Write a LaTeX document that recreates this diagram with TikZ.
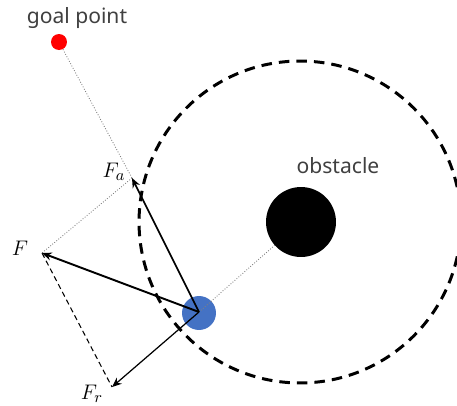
\documentclass[tikz,border=0pt]{standalone}
\usepackage{fontspec}
\newfontfamily\labelfont{Noto Sans}
\usetikzlibrary{arrows.meta}
\definecolor{robotblue}{HTML}{4472C4}
\definecolor{textgray}{HTML}{404040}
\tikzset{
  dot/.style={circle, inner sep=0pt, draw=none},
  force/.style={-{Stealth[length=5.5pt,width=4.5pt]}, black},
  helper/.style={densely dotted, gray, line width=0.5pt},
  sidetext/.style={text=textgray, font=\labelfont\fontsize{12}{14}\selectfont},
  mathlabel/.style={font=\fontsize{13}{15}\selectfont, inner sep=1pt},
}
\begin{document}
\begin{tikzpicture}[x=0.02cm, y=-0.02cm]
\useasboundingbox (0,0) rectangle (457,406);
\clip (0,0) rectangle (457,406);
% influence region
\draw[line width=1.7pt, dash pattern=on 6pt off 4pt] (300,222) circle[radius=3.22cm];
% nodes
\node[dot, fill=red, minimum size=0.32cm] (goal) at (59,42) {};
\node[dot, fill=black, minimum size=1.4cm] (obst) at (301,222) {};
\node[dot, fill=robotblue, minimum size=0.68cm] (robot) at (199,313) {};
\coordinate (c) at (199,312);
\coordinate (fa) at (132,178);
\coordinate (f) at (42,253);
\coordinate (fr) at (112,387);
% labels
\node[sidetext] (goallbl) at (77,18) {goal point};
\node[sidetext] (obstlbl) at (338,166) {obstacle};
\node[mathlabel] (falbl) at (114,172) {$F_a$};
\node[mathlabel] (flbl) at (20,248) {$F$};
\node[mathlabel] (frlbl) at (92,394) {$F_r$};
% helper lines
\draw[helper] (goal) -- (fa);
\draw[helper] (c) -- (obst);
\draw[helper] (fa) -- (f);
\draw[densely dashed, line width=0.6pt] (f) -- (fr);
% forces
\draw[force, line width=0.9pt] (c) -- (fa);
\draw[force, line width=1.1pt] (c) -- (f);
\draw[force, line width=0.7pt] (c) -- (fr);
\end{tikzpicture}
\end{document}
